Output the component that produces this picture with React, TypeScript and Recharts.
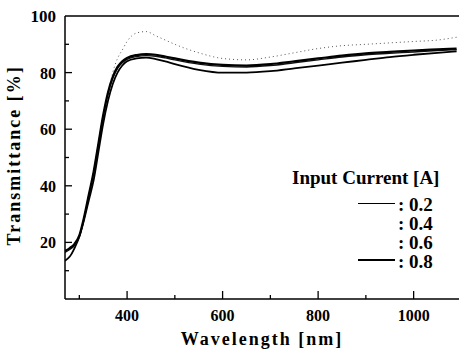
import React from 'react';
import { LineChart, Line, XAxis, YAxis, ReferenceLine } from 'recharts';

const wavelengths = [270, 280, 290, 300, 310, 320, 330, 340, 350, 360, 370, 380, 390, 400, 420, 440, 460, 480, 500, 550, 600, 650, 700, 750, 800, 850, 900, 950, 1000, 1050, 1090];

// transmittance [%] per input current
const t02 = [13.5, 15, 18, 22, 28, 35, 42, 52, 62, 70, 76, 80, 82.5, 84, 85, 85.3, 84.8, 84, 83, 81, 80, 80, 80.5, 81.5, 82.5, 83.5, 84.5, 85.5, 86.3, 87, 87.5];
const t04 = [null, null, null, null, null, null, null, null, null, 72, 80, 85, 88, 91, 94, 94.5, 93, 91.5, 90, 87, 85, 84.5, 85.5, 87, 88.5, 89.5, 90, 90.5, 91, 91.5, 92.5];
const t06 = [16.5, 17.5, 19, 22, 28.5, 36.5, 44.5, 54.5, 64.5, 72.5, 78, 81.5, 83.5, 84.7, 85.7, 86, 85.8, 85.2, 84.5, 83, 82.2, 82, 82.5, 83.5, 84.5, 85.5, 86.3, 86.8, 87.3, 87.8, 88.1];
const t08 = [17, 18, 19.5, 22.5, 29, 37, 45, 55, 65, 73, 78.5, 82, 84, 85.2, 86.2, 86.5, 86.3, 85.7, 85, 83.5, 82.7, 82.5, 83, 84, 85, 86, 86.8, 87.3, 87.8, 88.2, 88.5];

const xTicks = [300, 400, 500, 600, 700, 800, 900, 1000];
const xLabels = [400, 600, 800, 1000];
const yTicks = [10, 20, 30, 40, 50, 60, 70, 80, 90, 100];
const yLabels = [20, 40, 60, 80, 100];

const series = [
  { key: 'i02', name: '0.2', values: t02, width: 1.8, dash: undefined, color: '#000', showLine: true },
  { key: 'i04', name: '0.4', values: t04, width: 1, dash: '1 3', color: '#555', showLine: false },
  { key: 'i06', name: '0.6', values: t06, width: 1.4, dash: undefined, color: '#111', showLine: false },
  { key: 'i08', name: '0.8', values: t08, width: 2.2, dash: undefined, color: '#000', showLine: true },
];

const data = wavelengths.map((w, i) => {
  const row: any = { w };
  series.forEach((s) => { row[s.key] = s.values[i]; });
  return row;
});

const FONT = '"Liberation Serif", "Times New Roman", serif';

const XTick = ({ x, y, payload }: any) => {
  const major = xLabels.includes(payload.value);
  const axisY = y - 10;
  return (
    <g>
      <line x1={x} x2={x} y1={axisY} y2={axisY - (major ? 8 : 4)} stroke="#000" strokeWidth={1.3} />
      {major && (
        <text x={x} y={axisY + 22} textAnchor="middle" fontFamily={FONT} fontWeight="bold" fontSize={16} fill="#000">
          {payload.value}
        </text>
      )}
    </g>
  );
};

const YTick = ({ x, y, payload }: any) => {
  const major = yLabels.includes(payload.value);
  const axisX = x + 6;
  return (
    <g>
      {payload.value !== 100 && (
        <line x1={axisX} x2={axisX + (major ? 7 : 4)} y1={y} y2={y} stroke="#000" strokeWidth={1.3} />
      )}
      {major && (
        <text x={axisX - 9} y={y} dy={6} textAnchor="end" fontFamily={FONT} fontWeight="bold" fontSize={payload.value === 100 ? 17 : 16} fill="#000">
          {payload.value}
        </text>
      )}
    </g>
  );
};

const LegendBox = () => (
  <div style={{ position: 'absolute', left: 292, top: 168, width: 165, fontFamily: FONT, fontWeight: 'bold', color: '#000' }}>
    <div style={{ fontSize: 19, lineHeight: '19px', height: 27 }}>Input Current [A]</div>
    {series.map((s) => (
      <div key={s.key} style={{ display: 'flex', alignItems: 'center', height: 19, lineHeight: '19px', fontSize: 19, marginLeft: 66 }}>
        <span style={{ display: 'inline-block', width: 37, height: 0, borderTop: s.showLine ? `${s.width}px solid #000` : 'none', marginRight: 3, marginTop: -3 }} />
        <span>: {s.name}</span>
      </div>
    ))}
  </div>
);

export default function App() {
  return (
    <div style={{ position: 'absolute', left: 0, top: 0, width: 460, height: 352, background: '#fff' }}>
      <LineChart width={460} height={352} data={data} margin={{ top: 16, right: 1, bottom: 0, left: 0 }}>
        <XAxis
          dataKey="w"
          type="number"
          domain={[270, 1095]}
          ticks={xTicks}
          tick={<XTick />}
          tickLine={false}
          tickSize={0}
          tickMargin={10}
          height={53}
          stroke="#000"
          strokeWidth={1.5}
          allowDataOverflow
          label={{ value: 'Wavelength [nm]', position: 'insideBottom', offset: 7, fontFamily: FONT, fontWeight: 'bold', fontSize: 18, fill: '#000', letterSpacing: 2 }}
        />
        <YAxis
          type="number"
          domain={[0, 100]}
          ticks={yTicks}
          tick={<YTick />}
          tickLine={false}
          tickSize={0}
          tickMargin={6}
          width={65}
          stroke="#000"
          strokeWidth={1.5}
          allowDataOverflow
          label={{ value: 'Transmittance [%]', angle: -90, position: 'insideLeft', offset: 14, dy: 88, fontFamily: FONT, fontWeight: 'bold', fontSize: 18, fill: '#000', letterSpacing: 2 }}
        />
        <ReferenceLine y={100} stroke="#000" strokeWidth={1.5} />
        {series.map((s) => (
          <Line
            key={s.key}
            dataKey={s.key}
            name={s.name}
            type="monotone"
            stroke={s.color}
            strokeWidth={s.width}
            strokeDasharray={s.dash}
            dot={false}
            connectNulls={false}
            isAnimationActive={false}
          />
        ))}
      </LineChart>
      <LegendBox />
    </div>
  );
}
